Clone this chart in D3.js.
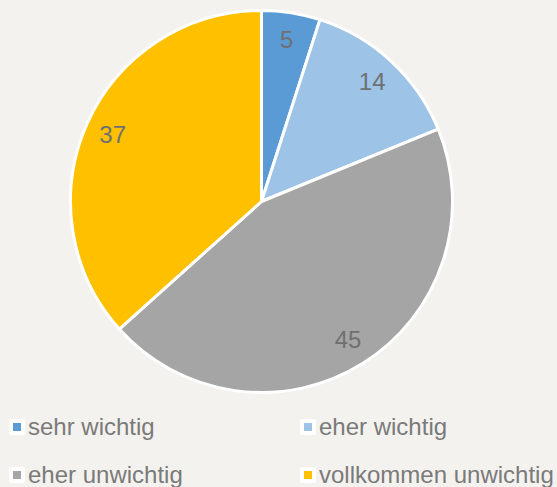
<!DOCTYPE html>
<html><head><meta charset="utf-8">
<script src="https://cdn.jsdelivr.net/npm/d3@7"></script>
<style>body{margin:0;background:#f4f2ee;}svg{display:block;}</style>
</head><body>
<script>
const categories = ["sehr wichtig","eher wichtig","eher unwichtig","vollkommen unwichtig"];
const values = [5,14,45,37];
const colors = ["#5b9bd5","#9dc3e6","#a5a5a5","#ffc000"];

const W=557,H=487, cx=261.5, cy=201.5, R=191;
const svg=d3.select("body").append("svg").attr("width",W).attr("height",H);
svg.append("rect").attr("width",W).attr("height",H).attr("fill","#f4f2ee");

const pie=d3.pie().sort(null).value(d=>d);
const arcs=pie(values);
const arc=d3.arc().innerRadius(0).outerRadius(R);
const labelArc=d3.arc().innerRadius(163).outerRadius(163);
const g=svg.append("g").attr("transform",`translate(${cx},${cy})`);
g.selectAll("path").data(arcs).join("path")
 .attr("d",arc).attr("fill",(d,i)=>colors[i])
 .attr("stroke","#ffffff").attr("stroke-width",3).attr("stroke-linejoin","round");
g.selectAll("text").data(arcs).join("text")
 .attr("transform",d=>`translate(${labelArc.centroid(d)})`)
 .attr("text-anchor","middle").attr("dy","0.33em")
 .attr("font-family","Liberation Sans, Arial, sans-serif").attr("font-size",24)
 .attr("fill","#707070").text(d=>d.data);

const legX=[9,300], legY=[427,475];
const lg=svg.append("g");
categories.forEach((c,i)=>{
  const x=legX[i%2], y=legY[Math.floor(i/2)];
  lg.append("rect").attr("x",x).attr("y",y-8).attr("width",16).attr("height",16).attr("fill","#ffffff").attr("rx",2);
  lg.append("rect").attr("x",x+4).attr("y",y-4).attr("width",8).attr("height",8).attr("fill",colors[i]);
  lg.append("text").attr("x",x+19).attr("y",y+8)
    .attr("font-family","Liberation Sans, Arial, sans-serif").attr("font-size",24)
    .attr("fill","#7a7a7a").text(c);
});
</script>
</body></html>
